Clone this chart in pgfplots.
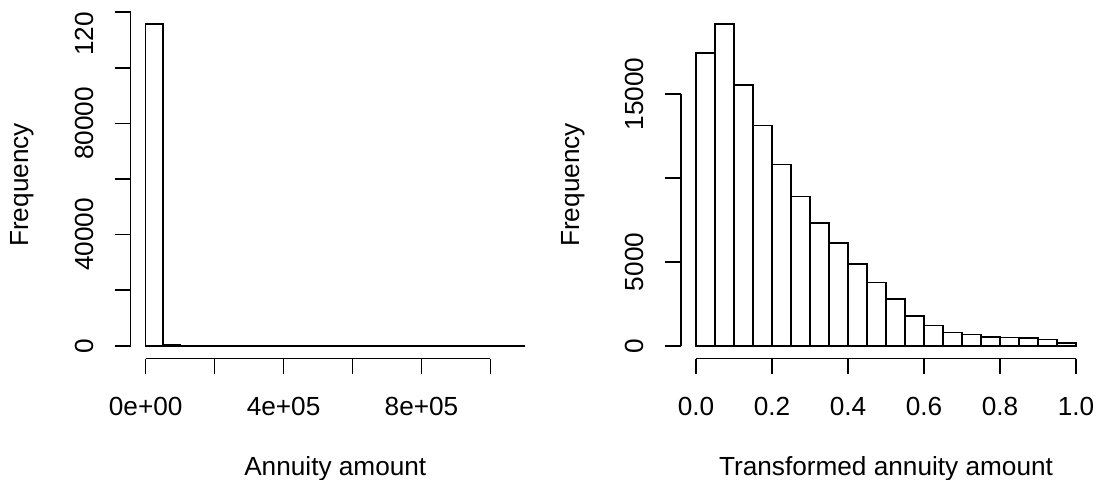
\documentclass[border=0pt]{standalone}
\usepackage{fontspec}
\setmainfont{Liberation Sans}
\usepackage{pgfplots}
\pgfplotsset{compat=1.18}
\newcommand{\fs}{\fontsize{13.1bp}{15.7bp}\selectfont}
\pgfplotsset{
  rhist/.style={
    scale only axis, anchor=south west,
    width=204.8bp, height=173.7bp,
    axis lines*=left, axis line style={draw=none},
    tick align=outside, major tick length=7.9bp,
    tick style={black, line width=0.8bp},
    xticklabel style={font=\fs, anchor=base, inner sep=0pt, yshift=-20.6bp},
    yticklabel style={font=\fs, xshift=-10.8bp, rotate=90, anchor=base, inner sep=0pt},
    clip=false,
  }
}
\begin{document}
\begin{tikzpicture}
\useasboundingbox (0,0) rectangle (550bp,240bp);
% ---------------- left histogram ----------------
\begin{axis}[rhist, at={(65.25bp,60.7bp)},
  xmin=-44000, xmax=1144000, ymin=-4628, ymax=120328,
  xtick={0,200000,400000,600000,800000,1000000},
  xticklabels={0e+00,,4e+05,,8e+05,},
  ytick={0,20000,40000,60000,80000,100000,120000},
  yticklabels={0,,40000,,80000,,120\phantom{000}},
  scaled ticks=false]
\addplot[ybar interval, draw=black, fill=white, line width=0.8bp] table {
x y
0 115700
50000 380
100000 90
150000 60
200000 45
250000 0
300000 0
350000 25
400000 0
450000 0
500000 0
550000 0
600000 0
650000 0
700000 0
750000 0
800000 0
850000 0
900000 0
950000 0
1000000 0
1050000 0
1100000 0
};
\draw[line width=0.8bp] (axis cs:-44000,0) -- (axis cs:-44000,120000);
\draw[line width=0.8bp] (axis cs:0,-4628) -- (axis cs:1000000,-4628);
\node[font=\fs, anchor=base, inner sep=0pt] at ([yshift=-58.5bp]rel axis cs:0.5,0) {Annuity amount};
\node[font=\fs, rotate=90, anchor=base, inner sep=0pt] at ([xshift=-50.8bp]rel axis cs:0,0.5) {Frequency};
\end{axis}
% ---------------- right histogram ----------------
\begin{axis}[rhist, at={(340.4bp,60.7bp)}, width=205.2bp,
  xmin=-0.04, xmax=1.04, ymin=-767, ymax=19944,
  xtick={0,0.2,0.4,0.6,0.8,1.0},
  xticklabels={0.0,0.2,0.4,0.6,0.8,1.0},
  ytick={0,5000,10000,15000},
  yticklabels={0,5000,,15000},
  scaled ticks=false]
\addplot[ybar interval, draw=black, fill=white, line width=0.8bp] table {
x y
0.00 17465
0.05 19177
0.10 15537
0.15 13126
0.20 10800
0.25 8890
0.30 7303
0.35 6128
0.40 4860
0.45 3770
0.50 2795
0.55 1790
0.60 1195
0.65 800
0.70 660
0.75 520
0.80 480
0.85 465
0.90 370
0.95 165
1.00 0
};
\draw[line width=0.8bp] (axis cs:-0.04,0) -- (axis cs:-0.04,15000);
\draw[line width=0.8bp] (axis cs:0,-767) -- (axis cs:1,-767);
\node[font=\fs, anchor=base, inner sep=0pt] at ([yshift=-58.5bp]rel axis cs:0.5,0) {Transformed annuity amount};
\node[font=\fs, rotate=90, anchor=base, inner sep=0pt] at ([xshift=-50.8bp]rel axis cs:0,0.5) {Frequency};
\end{axis}
\end{tikzpicture}
\end{document}
